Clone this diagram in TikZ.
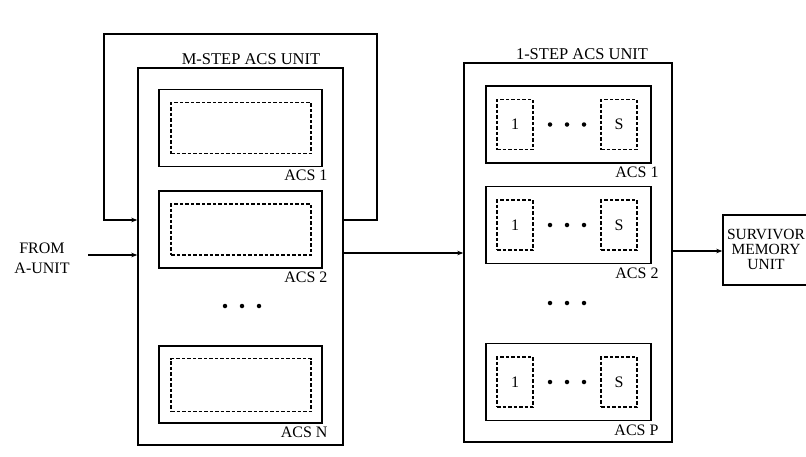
\documentclass[tikz,border=0pt]{standalone}
\usepackage{fontspec}
\setmainfont{Liberation Serif}
\usetikzlibrary{arrows.meta}
\begin{document}
\begin{tikzpicture}[x=1pt,y=-1pt,
 box/.style={draw, line width=1.4pt, inner sep=0pt, rectangle},
 dbox/.style={draw, line width=1.3pt, dash pattern=on 3.5pt off 2pt, inner sep=0pt, rectangle},
 lab/.style={font=\fontsize{16}{16}\selectfont, inner sep=0pt},
 conn/.style={line width=1.1pt},
 arr/.style={conn, -{Stealth[length=6pt,width=4.5pt]}},
 dotn/.style={circle, fill, inner sep=0pt, minimum size=4.5pt}]
\useasboundingbox (0,0) rectangle (806,456);
\clip (0,0) rectangle (806,456);

% ---------- M-step unit ----------
\node[box, minimum width=205pt, minimum height=377pt] (mbox) at (240.5,256.5) {};
\node[lab, font=\fontsize{16.5}{16.5}\selectfont] (mtitle) at (251,59) {M-STEP ACS UNIT};

\node[box, minimum width=163pt, minimum height=77pt] (ma1) at (240.5,128) {};
\node[dbox, minimum width=140pt, minimum height=51pt] (ma1d) at (241,128) {};
\node[lab, anchor=north east] (ma1l) at ([xshift=5pt,yshift=-3pt]ma1.south east) {ACS 1};

\node[box, minimum width=163pt, minimum height=77pt] (ma2) at (240.5,229.5) {};
\node[dbox, minimum width=140pt, minimum height=51pt] (ma2d) at (241,229.5) {};
\node[lab, anchor=north east] (ma2l) at ([xshift=5pt,yshift=-3pt]ma2.south east) {ACS 2};

\node[dotn] (md1) at (225,306) {};
\node[dotn] (md2) at (242,306) {};
\node[dotn] (md3) at (259,306) {};

\node[box, minimum width=163pt, minimum height=77pt] (man) at (240.5,384.5) {};
\node[dbox, minimum width=140pt, minimum height=53pt] (mand) at (241,385) {};
\node[lab, anchor=north east] (manl) at ([xshift=5pt,yshift=-3pt]man.south east) {ACS N};

% feedback loop
\coordinate (lp1) at (377,220);
\coordinate (lp2) at (377,34);
\coordinate (lp3) at (104,34);
\coordinate (lp4) at (104,220);
\draw[arr] (mbox.east |- lp1) -- (lp1) -- (lp2) -- (lp3) -- (lp4) -- (mbox.west |- lp4);

% input
\node[lab, align=center, font=\fontsize{16}{20}\selectfont] (from) at (42,258) {FROM\\A-UNIT};
\coordinate (in) at (88,255);
\draw[arr] (in) -- (mbox.west |- in);

% ---------- 1-step unit ----------
\node[box, minimum width=208pt, minimum height=379pt] (obox) at (568,252.5) {};
\node[lab, font=\fontsize{16.5}{16.5}\selectfont] (otitle) at (582,54) {1-STEP ACS UNIT};

\foreach \n/\y/\t in {o1/124.5/ACS 1, o2/225/ACS 2, op/382/ACS P}{
  \node[box, minimum width=165pt, minimum height=77pt] (\n) at (568.5,\y) {};
  \node[dbox, minimum width=36pt, minimum height=50pt] (\n a) at (515,\y) {\fontsize{16}{16}\selectfont 1};
  \node[dbox, minimum width=36pt, minimum height=50pt] (\n b) at (619,\y) {\fontsize{16}{16}\selectfont S};
  \node[dotn] (\n d1) at (550,\y) {};
  \node[dotn] (\n d2) at (567,\y) {};
  \node[dotn] (\n d3) at (584,\y) {};
  \node[lab, anchor=north east] (\n l) at ([xshift=7pt,yshift=-3pt]\n.south east) {\t};
}

\node[dotn] (od1) at (550,303) {};
\node[dotn] (od2) at (567,303) {};
\node[dotn] (od3) at (584,303) {};

% M-step -> 1-step
\coordinate (mid) at (400,253);
\draw[arr] (mbox.east |- mid) -- (obox.west |- mid);

% ---------- survivor memory ----------
\node[box, minimum width=89pt, minimum height=70pt] (surv) at (767.5,250) {};
\node[lab, align=center, font=\fontsize{15.5}{15}\selectfont] (survt) at (766,249) {SURVIVOR\\MEMORY\\UNIT};
\coordinate (out) at (700,251);
\draw[arr] (obox.east |- out) -- (surv.west |- out);

\end{tikzpicture}
\end{document}
